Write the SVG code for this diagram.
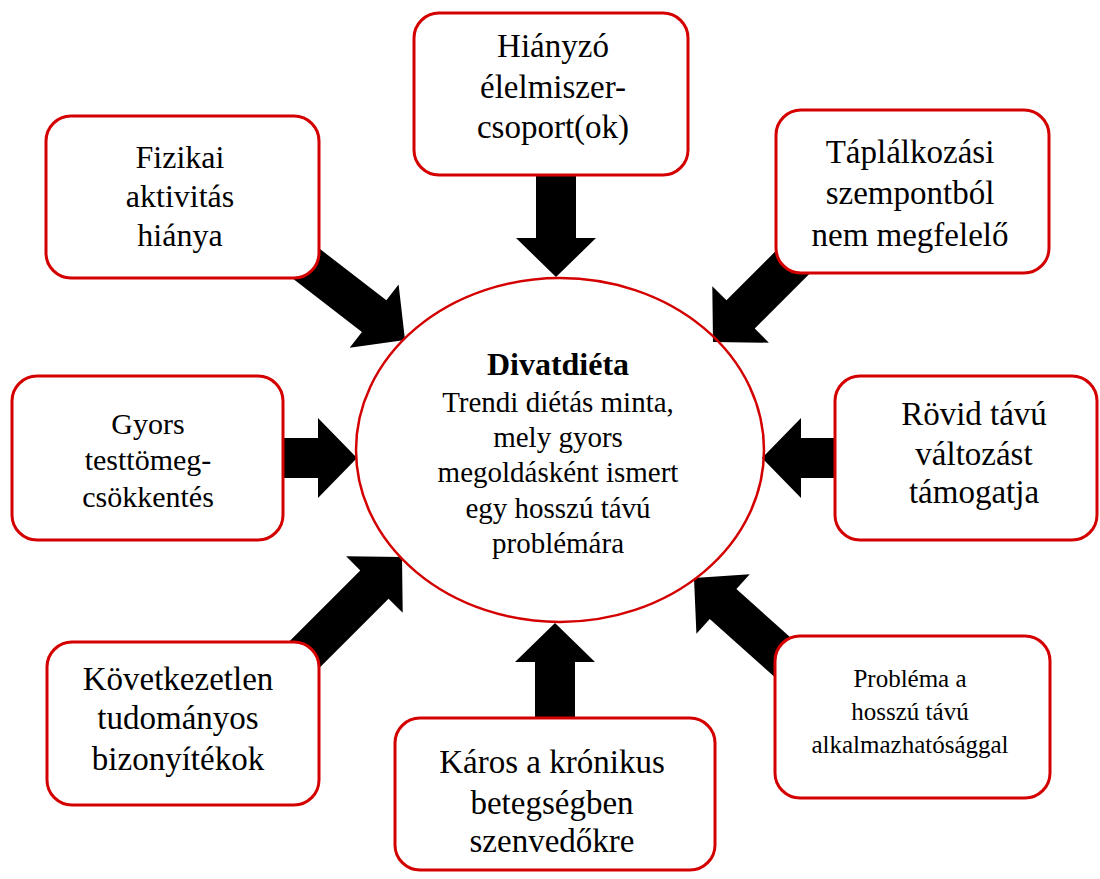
<svg xmlns="http://www.w3.org/2000/svg" xmlns:xlink="http://www.w3.org/1999/xlink" width="1100" height="879" viewBox="0 0 1100 879">
<style>
.box{fill:#fff;stroke:#d40000;stroke-width:3}
.ell{fill:none;stroke:#d40000;stroke-width:2.5}
.t{font-family:"Liberation Serif","Times New Roman",serif;fill:#000;text-anchor:middle}
.arr{fill:#000}
</style>
<defs>
<polygon id="arr" class="arr" points="-160,-20 -39,-20 -39,-40 0,0 -39,40 -39,20 -160,20"/>
</defs>
<rect width="1100" height="879" fill="#fff"/>
<g id="connectors">
<use xlink:href="#arr" transform="translate(556,277) rotate(90)"/>
<use xlink:href="#arr" transform="translate(357,458)"/>
<use xlink:href="#arr" transform="translate(762,458) rotate(180)"/>
<use xlink:href="#arr" transform="translate(555,623) rotate(-90)"/>
<use xlink:href="#arr" transform="translate(405,340) rotate(37.7)"/>
<use xlink:href="#arr" transform="translate(713,342) rotate(135)"/>
<use xlink:href="#arr" transform="translate(402,557) rotate(-45)"/>
<use xlink:href="#arr" transform="translate(694,578) rotate(221.8)"/>
</g>
<g id="center">
<ellipse class="ell" cx="560" cy="450" rx="204" ry="172"/>
<text class="t" x="558" y="375" font-size="32" font-weight="bold">Divatdiéta</text>
<text class="t" font-size="29"><tspan x="558" y="412">Trendi diétás minta,</tspan><tspan x="558" y="447">mely gyors</tspan><tspan x="558" y="482">megoldásként ismert</tspan><tspan x="558" y="518">egy hosszú távú</tspan><tspan x="558" y="553">problémára</tspan></text>
</g>
<g id="n-hianyzo">
<rect class="box" x="414" y="13" width="274" height="162" rx="25"/>
<text class="t" font-size="33"><tspan x="553" y="57">Hiányzó</tspan><tspan x="553" y="98">élelmiszer-</tspan><tspan x="553" y="138">csoport(ok)</tspan></text>
</g>
<g id="n-fizikai">
<rect class="box" x="46" y="116" width="273" height="162" rx="25"/>
<text class="t" font-size="32"><tspan x="180" y="168">Fizikai</tspan><tspan x="180" y="207">aktivitás</tspan><tspan x="180" y="246">hiánya</tspan></text>
</g>
<g id="n-taplalkozasi">
<rect class="box" x="776" y="110" width="273" height="163" rx="25"/>
<text class="t" font-size="33"><tspan x="910" y="163">Táplálkozási</tspan><tspan x="910" y="204">szempontból</tspan><tspan x="910" y="246">nem megfelelő</tspan></text>
</g>
<g id="n-gyors">
<rect class="box" x="12" y="376" width="271" height="164" rx="25"/>
<text class="t" font-size="30"><tspan x="148" y="434">Gyors</tspan><tspan x="148" y="470">testtömeg-</tspan><tspan x="148" y="507">csökkentés</tspan></text>
</g>
<g id="n-rovid">
<rect class="box" x="835" y="376" width="262" height="164" rx="25"/>
<text class="t" font-size="33"><tspan x="974" y="425">Rövid távú</tspan><tspan x="974" y="465">változást</tspan><tspan x="974" y="503">támogatja</tspan></text>
</g>
<g id="n-kovetkezetlen">
<rect class="box" x="47" y="642" width="272" height="163" rx="25"/>
<text class="t" font-size="33"><tspan x="178" y="690">Következetlen</tspan><tspan x="178" y="729">tudományos</tspan><tspan x="178" y="770">bizonyítékok</tspan></text>
</g>
<g id="n-karos">
<rect class="box" x="395" y="718" width="320" height="152" rx="25"/>
<text class="t" font-size="33"><tspan x="552" y="773">Káros a krónikus</tspan><tspan x="552" y="814">betegségben</tspan><tspan x="552" y="852">szenvedőkre</tspan></text>
</g>
<g id="n-problema">
<rect class="box" x="775" y="636" width="275" height="162" rx="25"/>
<text class="t" font-size="25"><tspan x="910" y="687">Probléma a</tspan><tspan x="910" y="720">hosszú távú</tspan><tspan x="910" y="753">alkalmazhatósággal</tspan></text>
</g>
</svg>
